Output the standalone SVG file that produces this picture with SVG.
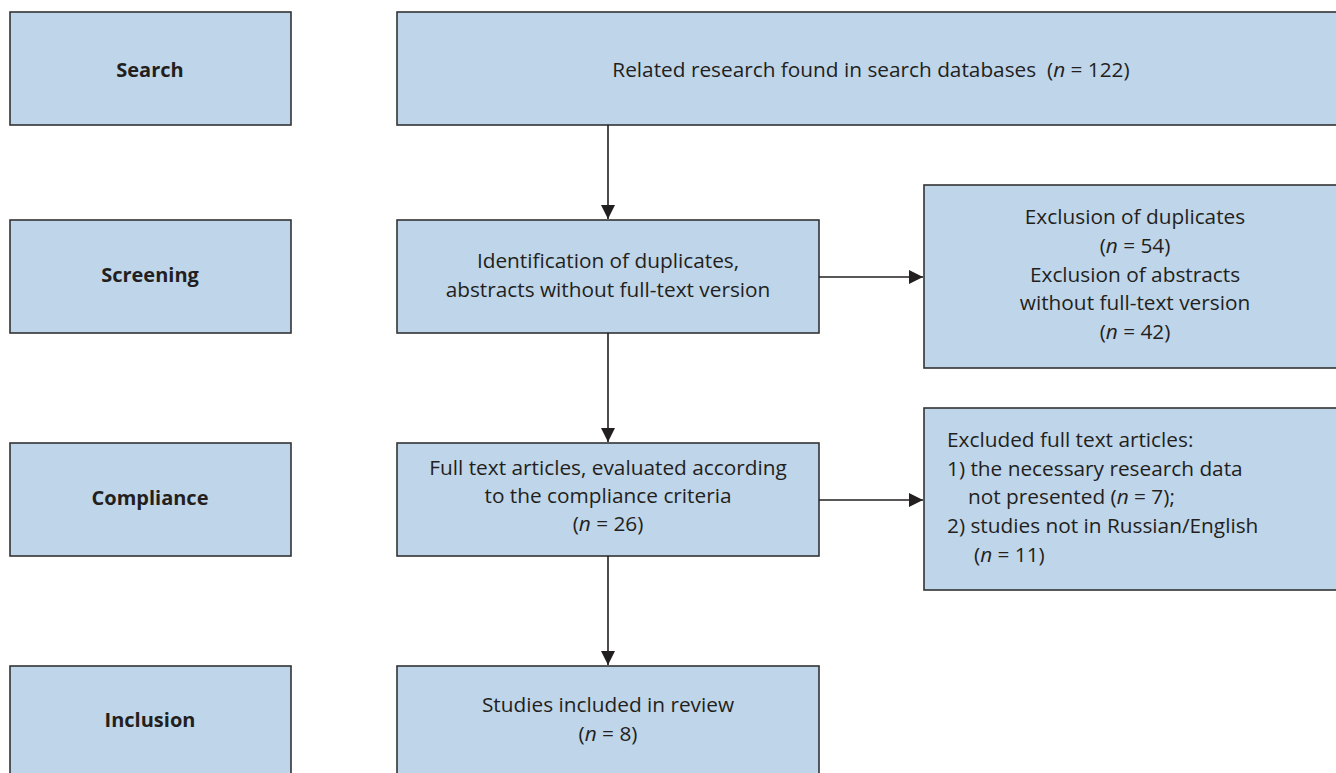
<svg xmlns="http://www.w3.org/2000/svg" width="1336" height="773" viewBox="0 0 1336 773">
<style>
.box{fill:#bfd5e9;stroke:#333;stroke-width:1.6}
text{font-family:"Open Sans","Noto Sans",sans-serif;font-size:20.8px;fill:#231f20}
.lbl{font-weight:bold;text-anchor:middle;font-size:20px}
.c{text-anchor:middle}
.conn{stroke:#231f20;stroke-width:1.6;fill:none}
</style>
<defs>
<marker id="ah" viewBox="0 0 10 10" refX="10" refY="5" markerWidth="14" markerHeight="14" markerUnits="userSpaceOnUse" orient="auto">
<path d="M0,0 L10,5 L0,10 z" fill="#231f20"/>
</marker>
</defs>
<g id="search-label"><rect class="box" x="10" y="12" width="281" height="113"/><text class="lbl" x="150" y="77">Search</text></g>
<g id="screening-label"><rect class="box" x="10" y="220" width="281" height="113"/><text class="lbl" x="150" y="282">Screening</text></g>
<g id="compliance-label"><rect class="box" x="10" y="443" width="281" height="113"/><text class="lbl" x="150" y="505">Compliance</text></g>
<g id="inclusion-label"><rect class="box" x="10" y="666" width="281" height="120"/><text class="lbl" x="150" y="727">Inclusion</text></g>
<g id="search"><rect class="box" x="397" y="12" width="945" height="113"/><text class="c" x="871" y="77" xml:space="preserve">Related research found in search databases  (<tspan font-style="italic">n</tspan> = 122)</text></g>
<g id="screening"><rect class="box" x="397" y="220" width="422" height="113"/><text class="c" x="608" y="268">Identification of duplicates,</text><text class="c" x="608" y="297">abstracts without full-text version</text></g>
<g id="exclusion1"><rect class="box" x="924" y="185" width="418" height="183"/>
<text class="c" x="1135" y="224">Exclusion of duplicates</text>
<text class="c" x="1135" y="253">(<tspan font-style="italic">n</tspan> = 54)</text>
<text class="c" x="1135" y="282">Exclusion of abstracts</text>
<text class="c" x="1135" y="310">without full-text version</text>
<text class="c" x="1135" y="339">(<tspan font-style="italic">n</tspan> = 42)</text></g>
<g id="compliance"><rect class="box" x="397" y="443" width="422" height="113"/>
<text class="c" x="608" y="475">Full text articles, evaluated according</text>
<text class="c" x="608" y="503">to the compliance criteria</text>
<text class="c" x="608" y="531">(<tspan font-style="italic">n</tspan> = 26)</text></g>
<g id="exclusion2"><rect class="box" x="924" y="408" width="418" height="182"/>
<text x="947" y="447">Excluded full text articles:</text>
<text x="947" y="476">1) the necessary research data</text>
<text x="968" y="504">not presented (<tspan font-style="italic">n</tspan> = 7);</text>
<text x="947" y="533">2) studies not in Russian/English</text>
<text x="974" y="562">(<tspan font-style="italic">n</tspan> = 11)</text></g>
<g id="inclusion"><rect class="box" x="397" y="666" width="422" height="120"/>
<text class="c" x="608" y="712">Studies included in review</text>
<text class="c" x="608" y="741">(<tspan font-style="italic">n</tspan> = 8)</text></g>
<g id="connectors">
<line class="conn" x1="608" y1="125" x2="608" y2="219" marker-end="url(#ah)"/>
<line class="conn" x1="608" y1="333" x2="608" y2="442" marker-end="url(#ah)"/>
<line class="conn" x1="608" y1="556" x2="608" y2="665" marker-end="url(#ah)"/>
<line class="conn" x1="819" y1="277" x2="923" y2="277" marker-end="url(#ah)"/>
<line class="conn" x1="819" y1="500" x2="923" y2="500" marker-end="url(#ah)"/>
</g>
</svg>
